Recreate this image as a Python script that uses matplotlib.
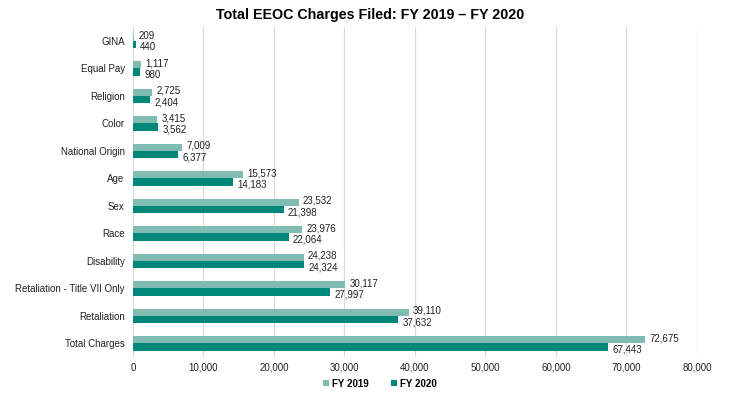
import matplotlib.pyplot as plt
import numpy as np

plt.rcParams['font.family'] = ['Liberation Sans', 'DejaVu Sans']

categories = ['GINA', 'Equal Pay', 'Religion', 'Color', 'National Origin', 'Age',
              'Sex', 'Race', 'Disability', 'Retaliation - Title VII Only',
              'Retaliation', 'Total Charges']
fy2019 = [209, 1117, 2725, 3415, 7009, 15573, 23532, 23976, 24238, 30117, 39110, 72675]
fy2020 = [440, 980, 2404, 3562, 6377, 14183, 21398, 22064, 24324, 27997, 37632, 67443]

c19 = '#80bcb2'
c20 = '#00877a'

fig = plt.figure(figsize=(7.41, 3.99), dpi=100)
ax = fig.add_axes([0.1795, 0.105, 0.761, 0.827])

y = np.arange(len(categories))
h = 0.26
b1 = ax.barh(y - h / 2, fy2019, height=h, color=c19, label='FY 2019', zorder=3)
b2 = ax.barh(y + h / 2, fy2020, height=h, color=c20, label='FY 2020', zorder=3)

for yy, v in zip(y, fy2019):
    ax.annotate(f'{v:,}', (v, yy - h / 2), xytext=(3, 1), textcoords='offset points',
                ha='left', va='center', fontsize=7, color='#222222')
for yy, v in zip(y, fy2020):
    ax.annotate(f'{v:,}', (v, yy + h / 2), xytext=(3, -2), textcoords='offset points',
                ha='left', va='center', fontsize=7, color='#222222')

ax.set_xlim(0, 80000)
ax.set_ylim(len(categories) - 0.5, -0.5)
ax.set_yticks(y)
ax.set_yticklabels(categories, fontsize=7, color='#222222')
ax.set_xticks(np.arange(0, 80001, 10000))
ax.set_xticklabels([f'{t:,}' for t in range(0, 80001, 10000)], fontsize=7, color='#222222')
ax.tick_params(length=0, pad=4)
ax.tick_params(axis='y', pad=6)
ax.grid(axis='x', color='#d9d9d9', linewidth=0.8, zorder=0)
for s in ax.spines.values():
    s.set_visible(False)

fig.suptitle('Total EEOC Charges Filed: FY 2019 \u2013 FY 2020', x=0.5, y=0.98,
             fontsize=10.3, fontweight='bold')

leg = fig.legend(handles=[b1, b2], loc='center', bbox_to_anchor=(0.513, 0.038), ncol=2,
                 frameon=False, fontsize=7, handlelength=0.6, handleheight=0.6,
                 columnspacing=2.3, handletextpad=0.3)
for t in leg.get_texts():
    t.set_fontweight('bold')

fig.savefig('out.png', dpi=100)
